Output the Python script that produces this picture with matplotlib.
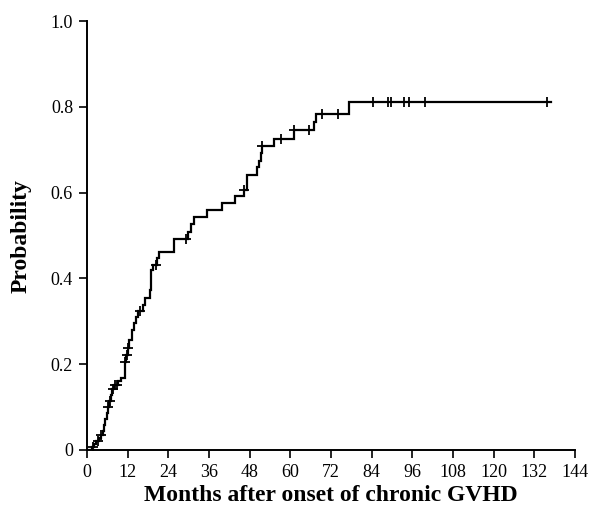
import numpy as np
import matplotlib
matplotlib.use("Agg")
import matplotlib.pyplot as plt

# Step times (months) and cumulative probability after each step
event_months = [0, 1.6, 2.2, 2.8, 3.5, 4.1, 4.6, 5.0, 5.4, 5.8, 6.2, 6.6, 7.0, 7.5,
                8.1, 9.0, 10.0, 11.2, 11.3, 11.5, 12.0, 12.5, 13.2, 13.8, 14.4,
                15.1, 16.5, 17.1, 18.7, 18.8, 18.9, 19.5, 20.6, 21.1, 25.7, 25.8,
                29.8, 30.8, 31.6, 35.4, 39.7, 43.6, 46.4, 47.2, 47.3, 50.3, 50.9,
                51.4, 51.6, 55.2, 61.1, 67.1, 67.6, 77.2, 136.8]
event_prob = [0.0, 0.007, 0.014, 0.021, 0.028, 0.035, 0.045, 0.058, 0.072, 0.086,
              0.100, 0.114, 0.128, 0.142, 0.151, 0.160, 0.167, 0.190, 0.205, 0.222,
              0.238, 0.256, 0.279, 0.295, 0.310, 0.325, 0.338, 0.354, 0.372, 0.395,
              0.419, 0.432, 0.448, 0.461, 0.476, 0.492, 0.508, 0.527, 0.544, 0.560,
              0.576, 0.591, 0.605, 0.624, 0.642, 0.659, 0.674, 0.692, 0.709, 0.725,
              0.746, 0.764, 0.783, 0.812, 0.812]

# Censored observations (months)
censor_months = [1.7, 3.2, 4.2, 6.2, 6.8, 7.8, 8.4, 8.9, 11.3, 11.8, 12.2, 15.6,
                 20.4, 29.2, 46.4, 51.7, 57.1, 61.1, 65.4, 69.3, 74.2, 84.3, 88.7,
                 89.6, 93.6, 95.1, 99.8, 135.8]

x_ticks = list(range(0, 145, 12))
y_ticks = [0, 0.2, 0.4, 0.6, 0.8, 1.0]
y_tick_labels = ["0", "0.2", "0.4", "0.6", "0.8", "1.0"]

plt.rcParams['font.family'] = ['Liberation Serif', 'DejaVu Serif']

fig = plt.figure(figsize=(5.94, 5.11), dpi=100)
ax = fig.add_axes([87/594, 1 - 450/511, (575 - 87)/594, (450 - 21)/511])

t = np.array(event_months)
p = np.array(event_prob)
ax.step(t, p, where='post', color='black', lw=1.6, solid_joinstyle='miter')

c = np.array(censor_months)
idx = np.searchsorted(t, c, side='right') - 1
ax.plot(c, p[idx], linestyle='none', marker='+', color='black', ms=6.5, mew=1.3)

ax.set_xlim(0, 144)
ax.set_ylim(0, 1.0)
ax.set_xticks(x_ticks)
ax.set_xticklabels([str(v) for v in x_ticks])
ax.set_yticks(y_ticks)
ax.set_yticklabels(y_tick_labels)

for s in ['top', 'right']:
    ax.spines[s].set_visible(False)
for s in ['left', 'bottom']:
    ax.spines[s].set_linewidth(1.4)
    ax.spines[s].set_color('black')
ax.tick_params(axis='both', direction='out', length=6, width=1.2,
               labelsize=13, colors='black', pad=4)

ax.set_xlabel('Months after onset of chronic GVHD', fontsize=17,
              fontweight='bold', labelpad=3)
ax.set_ylabel('Probability', fontsize=17, fontweight='bold', labelpad=14)

fig.savefig('out.png', dpi=100)
